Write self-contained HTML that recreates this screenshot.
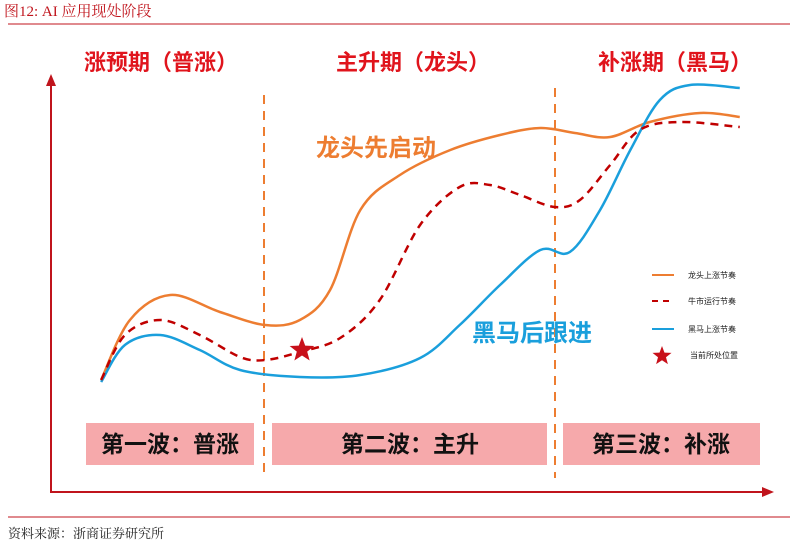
<!DOCTYPE html>
<html><head><meta charset="utf-8"><style>
body{margin:0;width:790px;height:548px;background:#fff;overflow:hidden;font-family:"Liberation Sans","Noto Sans CJK SC",sans-serif}
</style></head><body>
<svg width="790" height="548" id="chart">
<text x="4" y="16" font-size="15" fill="#c0141c" font-family="Liberation Serif,Noto Serif CJK SC,serif">图12:  AI 应用现处阶段</text>
<line x1="8" y1="24" x2="790" y2="24" stroke="#c0141c" stroke-width="1"/>
<line x1="8" y1="517" x2="790" y2="517" stroke="#c0141c" stroke-width="1"/>
<text x="8" y="538" font-size="13" fill="#222" font-family="Liberation Serif,Noto Serif CJK SC,serif">资料来源：浙商证券研究所</text>
<g font-weight="bold" font-size="22" fill="#e0141c" text-anchor="middle">
<text x="161" y="70">涨预期（普涨）</text>
<text x="413" y="70">主升期（龙头）</text>
<text x="675" y="70">补涨期（黑马）</text>
</g>
<rect x="86" y="423" width="168" height="42" fill="#f6a9ab"/>
<rect x="272" y="423" width="275" height="42" fill="#f6a9ab"/>
<rect x="563" y="423" width="197" height="42" fill="#f6a9ab"/>
<g font-weight="bold" font-size="23" fill="#111" text-anchor="middle">
<text x="170" y="452">第一波：普涨</text>
<text x="410" y="452">第二波：主升</text>
<text x="661" y="452">第三波：补涨</text>
</g>
<line x1="264" y1="95" x2="264" y2="478" stroke="#ed7d31" stroke-width="2" stroke-dasharray="9,7"/>
<line x1="555" y1="88" x2="555" y2="478" stroke="#ed7d31" stroke-width="2" stroke-dasharray="9,7"/>
<line x1="51" y1="493" x2="51" y2="82" stroke="#c0141c" stroke-width="2"/>
<polygon points="51,74 46,86 56,86" fill="#c0141c"/>
<line x1="50" y1="492" x2="765" y2="492" stroke="#c0141c" stroke-width="2"/>
<polygon points="774,492 762,487 762,497" fill="#c0141c"/>
<text x="316" y="156" font-size="24" font-weight="bold" fill="#ed7d31">龙头先启动</text>
<text x="472" y="341" font-size="24" font-weight="bold" fill="#1a9fdc">黑马后跟进</text>
<g font-size="8" fill="#222">
<line x1="652" y1="275" x2="674" y2="275" stroke="#ed7d31" stroke-width="2"/>
<text x="688" y="278">龙头上涨节奏</text>
<line x1="652" y1="301" x2="674" y2="301" stroke="#c00000" stroke-width="2" stroke-dasharray="6,5"/>
<text x="688" y="304">牛市运行节奏</text>
<line x1="652" y1="329" x2="674" y2="329" stroke="#1a9fdc" stroke-width="2"/>
<text x="688" y="332">黑马上涨节奏</text>
<text x="690" y="358">当前所处位置</text>
</g>
<g id="series"></g>
</svg>
<script>
const orangeT=[7.1,11.1,16.7,23.6,29.9,34.7,38.9,43.1,48.6,55.6,62.5,68.1,72.9,77.8,83.3,90.3,95.8];
const orangeV=[27.5,42.5,48.75,44.5,41.25,42.5,50,70,78.75,85,88.75,90.5,89.25,88.25,92,94.25,93.25];
const redT=[7.1,10.4,15.3,20.8,26.4,29.9,34.7,40.3,45.8,51.4,56.9,61.1,65.3,70.1,73.6,77.8,81.9,87.5,95.8];
const redV=[27.5,38.75,42.5,38.75,33.25,32.5,34.5,38,47.5,66.25,75.75,76.25,73.75,70.75,72.5,81.25,90,92,90.75];
const blueT=[7.1,10.4,15.3,20.8,26.4,34.7,43.1,51.4,56.9,62.5,68.1,72.2,76.4,80.6,84.7,88.9,95.8];
const blueV=[27,36.25,38.75,35,30,28.25,28.75,33,41.25,51.25,60,59.5,70,85,97.5,101.25,100.5];
const starT=[35.0];
const starV=[35.0];
const sx=t=>50+t*7.2, sy=v=>490-v*4;
function path(T,V){
  const p=T.map((t,i)=>[sx(t),sy(V[i])]);
  let d=`M${p[0][0]},${p[0][1]}`;
  for(let i=0;i<p.length-1;i++){
    const a=p[Math.max(i-1,0)],b=p[i],c=p[i+1],e=p[Math.min(i+2,p.length-1)];
    d+=` C${b[0]+(c[0]-a[0])/6},${b[1]+(c[1]-a[1])/6} ${c[0]-(e[0]-b[0])/6},${c[1]-(e[1]-b[1])/6} ${c[0]},${c[1]}`;
  }
  return d;
}
const g=document.getElementById('series');
const NS='http://www.w3.org/2000/svg';
function add(T,V,col,dash,name){
  const el=document.createElementNS(NS,'path');
  el.setAttribute('d',path(T,V));el.setAttribute('fill','none');
  el.setAttribute('stroke',col);el.setAttribute('stroke-width','2.5');
  if(dash)el.setAttribute('stroke-dasharray',dash);
  
  
  g.appendChild(el);
}
add(orangeT,orangeV,'#ed7d31',null,'leader-line');
add(blueT,blueV,'#1a9fdc',null,'darkhorse-line');
add(redT,redV,'#c00000','8,6','market-line');
function star(cx,cy,r,name){
  let pts=[];for(let i=0;i<10;i++){const a=-Math.PI/2+i*Math.PI/5,rr=i%2?r*0.42:r;pts.push((cx+rr*Math.cos(a))+','+(cy+rr*Math.sin(a)));}
  const s=document.createElementNS(NS,'polygon');s.setAttribute('points',pts.join(' '));s.setAttribute('fill','#c8101a');
  
  
  document.getElementById('chart').appendChild(s);
}
star(sx(starT[0]),sy(starV[0]),13,'current-position-star');
star(662,356,10,'legend-current-swatch');
</script>
</body></html>
